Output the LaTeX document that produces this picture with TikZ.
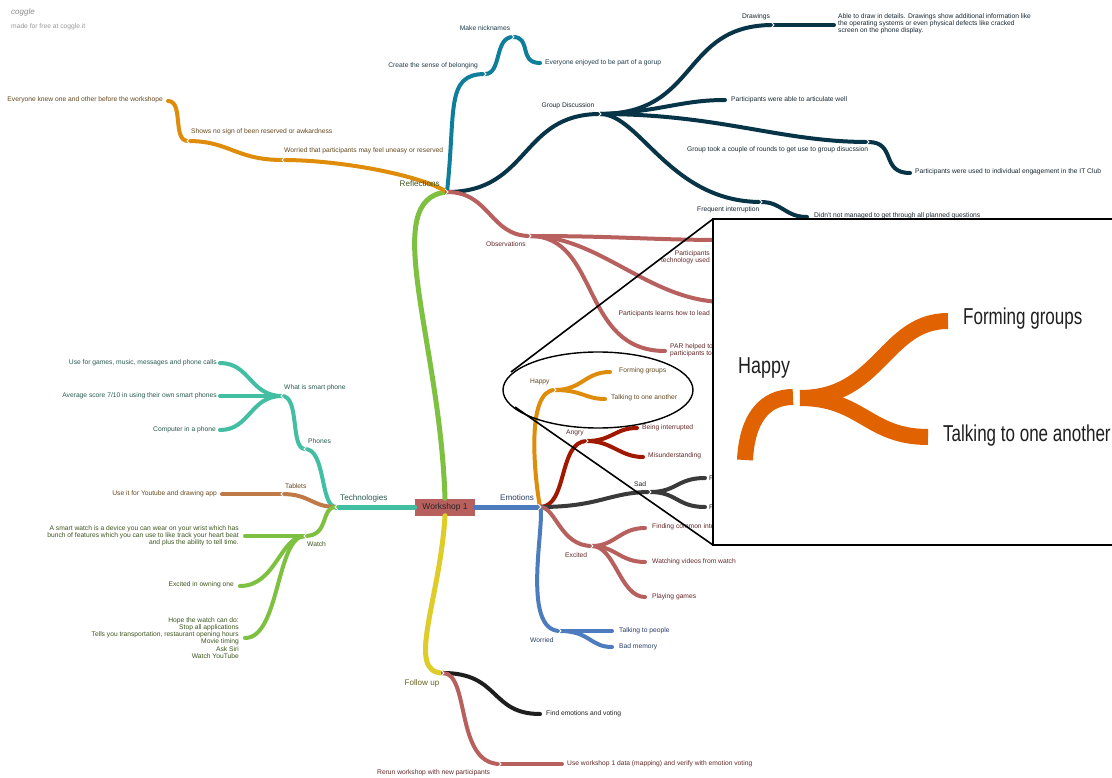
\documentclass[tikz,border=0pt]{standalone}
\usepackage{fontspec}
\setmainfont{Liberation Sans}
\usetikzlibrary{calc,shapes.geometric}
\definecolor{cOr}{RGB}{222,140,10}
\definecolor{cTl}{RGB}{14,126,155}
\definecolor{cNv}{RGB}{8,52,72}
\definecolor{cRo}{RGB}{184,96,94}
\definecolor{cGr}{RGB}{126,192,64}
\definecolor{cYe}{RGB}{222,204,40}
\definecolor{cTg}{RGB}{66,190,162}
\definecolor{cBr}{RGB}{192,122,72}
\definecolor{cBl}{RGB}{76,123,190}
\definecolor{cDr}{RGB}{160,24,0}
\definecolor{cDg}{RGB}{58,58,58}
\definecolor{cBk}{RGB}{30,30,30}
\definecolor{cIn}{RGB}{224,98,0}
\definecolor{tOr}{RGB}{100,72,30}
\definecolor{tTl}{RGB}{30,60,75}
\definecolor{tNv}{RGB}{25,40,50}
\definecolor{tRo}{RGB}{100,40,40}
\definecolor{tGr}{RGB}{60,85,30}
\definecolor{tTg}{RGB}{40,90,80}
\definecolor{tBl}{RGB}{40,60,100}
\definecolor{tBk}{RGB}{30,30,30}
\definecolor{tYe}{RGB}{100,100,30}
\begin{document}
\begin{tikzpicture}[x=1pt,y=-1pt,
  br/.style={line width=4pt,line cap=round},
  mbr/.style={line width=5pt,line cap=round},
  lf/.style={font=\fontsize{6.7}{7.2}\selectfont,inner sep=0pt},
  tp/.style={font=\fontsize{8.1}{9}\selectfont,inner sep=0pt},
  notch/.pic={\draw[white,line width=0.8pt,line cap=round] (-1.5,-2.5) -- (1,0) -- (-1.5,2.5);},
  big/.style={font=\fontsize{23}{26}\selectfont,inner sep=0pt}]
\useasboundingbox (0,0) rectangle (1112,778);
\fill[white] (0,0) rectangle (1112,778);

% header
\node[anchor=west,inner sep=0pt,text=black!45,font=\fontsize{8}{9}\selectfont\itshape] (logo) at (11,12) {coggle};
\node[anchor=west,inner sep=0pt,text=black!40,font=\fontsize{6.7}{8}\selectfont] (made) at (11,27) {made for free at coggle.it};

% junction coordinates
\coordinate (refl) at (447,192);
\coordinate (wor) at (283,160);
\coordinate (sho) at (188,141);
\coordinate (eve) at (168,101);
\coordinate (bel) at (485,74);
\coordinate (nick) at (513,37);
\coordinate (enj) at (540,63);
\coordinate (gd) at (600,114);
\coordinate (drw) at (773,25);
\coordinate (drwE) at (834,25);
\coordinate (art) at (725,100);
\coordinate (gt) at (868,142);
\coordinate (ind) at (910,173);
\coordinate (fi) at (761,202);
\coordinate (didnt) at (807,217);
\coordinate (obs) at (530,236);
\coordinate (ob1) at (725,240);
\coordinate (ob2) at (725,302);
\coordinate (par) at (665,351);
\coordinate (fu) at (443,673);
\coordinate (fev) at (540,714);
\coordinate (rer) at (500,764);
\coordinate (use) at (562,764);
\coordinate (tech) at (336,507);
\coordinate (pho) at (305,449);
\coordinate (wsp) at (282,396);
\coordinate (p1) at (220,363);
\coordinate (p2) at (220,396);
\coordinate (p3) at (220,430);
\coordinate (tab) at (282,494);
\coordinate (tabE) at (222,494);
\coordinate (wat) at (305,536);
\coordinate (w1) at (245,536);
\coordinate (w2) at (240,586);
\coordinate (w3) at (245,638);
\coordinate (emo) at (540,507);
\coordinate (hap) at (555,390);
\coordinate (h1) at (610,372);
\coordinate (h2) at (605,399);
\coordinate (ang) at (587,441);
\coordinate (a1) at (637,428);
\coordinate (a2) at (643,457);
\coordinate (sad) at (650,492);
\coordinate (s1) at (705,478);
\coordinate (s2) at (705,507);
\coordinate (exc) at (592,546);
\coordinate (e1) at (645,528);
\coordinate (e2) at (645,562);
\coordinate (e3) at (645,597);
\coordinate (wrd) at (560,631);
\coordinate (r1) at (612,631);
\coordinate (r2) at (612,647);

% central node
\node[fill=cRo,minimum width=60pt,minimum height=17pt,inner sep=0pt,text=black!85,font=\fontsize{8.5}{10}\selectfont] (ws) at (445,507) {Workshop 1};

% ===== Reflections =====
\draw[mbr,cGr] (ws.north) .. controls (440,340) and (378,198) .. (refl);
\draw[br,cOr] (refl) .. controls (420,175) and (340,160) .. (wor);
\draw[br,cOr] (wor) .. controls (235,160) and (230,141) .. (sho);
\draw[br,cOr] (sho) .. controls (172,141) and (184,101) .. (eve);
\draw[br,cTl] (refl) .. controls (456,110) and (445,74) .. (bel);
\draw[br,cTl] (bel) .. controls (502,74) and (494,37) .. (nick);
\draw[br,cTl] (nick) .. controls (532,37) and (518,63) .. (enj);
\draw[br,cNv] (refl) .. controls (530,192) and (520,114) .. (gd);
\draw[br,cNv] (gd) .. controls (700,114) and (680,25) .. (drw);
\draw[br,cNv] (drw) -- (drwE);
\draw[br,cNv] (gd) .. controls (660,112) and (680,100) .. (art);
\draw[br,cNv] (gd) .. controls (720,114) and (780,142) .. (gt);
\draw[br,cNv] (gt) .. controls (897,142) and (880,173) .. (ind);
\draw[br,cNv] (gd) .. controls (640,114) and (670,202) .. (fi);
\draw[br,cNv] (fi) .. controls (782,202) and (785,217) .. (didnt);
\draw[br,cRo] (refl) .. controls (490,192) and (490,236) .. (obs);
\draw[br,cRo] (obs) .. controls (620,236) and (650,240) .. (ob1);
\draw[br,cRo] (obs) .. controls (600,236) and (650,302) .. (ob2);
\draw[br,cRo] (obs) .. controls (600,236) and (580,351) .. (par);

\node[tp,anchor=east,text=tGr] (lrefl) at (440,184) {Reflections};
\node[lf,anchor=west,text=tOr] (lwor) at (284,151) {Worried that participants may feel uneasy or reserved};
\node[lf,anchor=west,text=tOr] (lsho) at (191,132) {Shows no sign of been reserved or awkardness};
\node[lf,anchor=east,text=tOr] (leve) at (163,100) {Everyone knew one and other before the workshope};
\node[lf,anchor=east,text=tTl] (lbel) at (478,66) {Create the sense of belonging};
\node[lf,text=tTl] (lnick) at (485,28) {Make nicknames};
\node[lf,anchor=west,text=tTl] (lenj) at (545,63) {Everyone enjoyed to be part of a gorup};
\node[lf,text=tNv] (lgd) at (568,106) {Group Discussion};
\node[lf,text=tNv] (ldrw) at (756,17) {Drawings};
\node[lf,anchor=west,align=left,text=tNv] (ldrwE) at (838,24) {Able to draw in details. Drawings show additional information like\\the operating systems or even physical defects like cracked\\screen on the phone display.};
\node[lf,anchor=west,text=tNv] (lart) at (731,100) {Participants were able to articulate well};
\node[lf,anchor=west,text=tNv] (lgt) at (687,150) {Group took a couple of rounds to get use to group disucssion};
\node[lf,anchor=west,text=tNv] (lind) at (915,172) {Participants were used to individual engagement in the IT Club};
\node[lf,anchor=west,text=tNv] (lfi) at (697,210) {Frequent interruption};
\node[lf,anchor=west,text=tNv] (ldidnt) at (814,216) {Didn't not managed to get through all planned questions};
\node[lf,anchor=west,text=tRo] (lobs) at (486,244) {Observations};
\node[lf,anchor=east,align=right,text=tRo] (lob2) at (710,257) {Participants\\technology used};
\node[lf,anchor=east,text=tRo] (llead) at (710,314) {Participants learns how to lead};
\node[lf,anchor=west,align=left,text=tRo] (lpar) at (670,350) {PAR helped to\\participants to};

% ===== Follow up =====
\draw[mbr,cYe] (ws.south) .. controls (440,600) and (405,673) .. (fu);
\draw[br,cBk] (fu) .. controls (500,673) and (490,714) .. (fev);
\draw[br,cRo] (fu) .. controls (470,673) and (455,764) .. (rer);
\draw[br,cRo] (rer) -- (use);
\node[tp,text=tYe] (lfu) at (422,683) {Follow up};
\node[lf,anchor=west,text=tBk] (lfev) at (546,714) {Find emotions and voting};
\node[lf,anchor=west,text=tRo] (lrer) at (377,773) {Rerun workshop with new participants};
\node[lf,anchor=west,text=tRo] (luse) at (567,764) {Use workshop 1 data (mapping) and verify with emotion voting};

% ===== Technologies =====
\draw[mbr,cTg] (ws.west) -- (tech);
\draw[br,cTg] (tech) .. controls (320,507) and (326,449) .. (pho);
\draw[br,cTg] (pho) .. controls (290,449) and (300,396) .. (wsp);
\draw[br,cTg] (wsp) .. controls (250,396) and (250,363) .. (p1);
\draw[br,cTg] (wsp) -- (p2);
\draw[br,cTg] (wsp) .. controls (250,396) and (250,430) .. (p3);
\draw[br,cBr] (tech) .. controls (312,507) and (310,494) .. (tab);
\draw[br,cBr] (tab) -- (tabE);
\draw[br,cGr] (tech) .. controls (320,507) and (330,536) .. (wat);
\draw[br,cGr] (wat) -- (w1);
\draw[br,cGr] (wat) .. controls (280,536) and (276,586) .. (w2);
\draw[br,cGr] (wat) .. controls (276,536) and (280,638) .. (w3);
\node[tp,anchor=west,text=tTg] (ltech) at (340,498) {Technologies};
\node[lf,anchor=west,text=tTg] (lpho) at (308,441) {Phones};
\node[lf,anchor=west,text=tTg] (lwsp) at (284,388) {What is smart phone};
\node[lf,anchor=east,text=tTg] (lp1) at (217,363) {Use for games, music, messages and phone calls};
\node[lf,anchor=east,text=tTg] (lp2) at (217,396) {Average score 7/10 in using their own smart phones};
\node[lf,anchor=east,text=tTg] (lp3) at (216,430) {Computer in a phone};
\node[lf,anchor=west,text=tOr] (ltab) at (285,486) {Tablets};
\node[lf,anchor=east,text=tOr] (ltabE) at (217,494) {Use it for Youtube and drawing app};
\node[lf,anchor=west,text=tGr] (lwat) at (307,544) {Watch};
\node[lf,anchor=east,align=right,text=tGr] (lw1) at (239,536) {A smart watch is a device you can wear on your wrist which has\\bunch of features which you can use to like track your heart beat\\and plus the ability to tell time.};
\node[lf,anchor=east,text=tGr] (lw2) at (234,585) {Excited in owning one};
\node[lf,anchor=east,align=right,text=tGr] (lw3) at (239,638) {Hope the watch can do:\\Stop all applications\\Tells you transportation, restaurant opening hours\\Movie timing\\Ask Siri\\Watch YouTube};

% ===== Emotions =====
\draw[mbr,cBl] (ws.east) -- (emo);
\draw[br,cOr] (emo) .. controls (535,480) and (525,390) .. (hap);
\draw[br,cOr] (hap) .. controls (582,390) and (585,372) .. (h1);
\draw[br,cOr] (hap) .. controls (582,390) and (585,399) .. (h2);
\draw[br,cDr] (emo) .. controls (568,507) and (558,441) .. (ang);
\draw[br,cDr] (ang) .. controls (612,441) and (615,428) .. (a1);
\draw[br,cDr] (ang) .. controls (612,441) and (620,457) .. (a2);
\draw[br,cDg] (emo) .. controls (600,507) and (610,492) .. (sad);
\draw[br,cDg] (sad) .. controls (677,492) and (677,478) .. (s1);
\draw[br,cDg] (sad) .. controls (677,492) and (677,507) .. (s2);
\draw[br,cRo] (emo) .. controls (556,507) and (560,546) .. (exc);
\draw[br,cRo] (exc) .. controls (615,546) and (620,528) .. (e1);
\draw[br,cRo] (exc) .. controls (615,546) and (620,562) .. (e2);
\draw[br,cRo] (exc) .. controls (615,546) and (620,597) .. (e3);
\draw[br,cBl] (emo) .. controls (546,520) and (520,631) .. (wrd);
\draw[br,cBl] (wrd) -- (r1);
\draw[br,cBl] (wrd) .. controls (590,631) and (590,647) .. (r2);
\node[tp,anchor=west,text=tBl] (lemo) at (500,498) {Emotions};
\node[lf,anchor=west,text=tOr] (lhap) at (530,382) {Happy};
\node[lf,anchor=west,text=tOr] (lh1) at (619,371) {Forming groups};
\node[lf,anchor=west,text=tOr] (lh2) at (611,398) {Talking to one another};
\node[lf,anchor=west,text=tRo] (lang) at (566,433) {Angry};
\node[lf,anchor=west,text=tRo] (la1) at (642,428) {Being interrupted};
\node[lf,anchor=west,text=tRo] (la2) at (648,456) {Misunderstanding};
\node[lf,anchor=west,text=tBk] (lsad) at (634,484) {Sad};
\node[lf,anchor=west,text=tBk] (ls1) at (709,478) {F};
\node[lf,anchor=west,text=tBk] (ls2) at (709,507) {F};
\node[lf,anchor=west,text=tRo] (lexc) at (565,555) {Excited};
\node[lf,anchor=west,text=tRo] (le1) at (652,527) {Finding common interests};
\node[lf,anchor=west,text=tRo] (le2) at (652,562) {Watching videos from watch};
\node[lf,anchor=west,text=tRo] (le3) at (652,597) {Playing games};
\node[lf,anchor=west,text=tBl] (lwrd) at (530,640) {Worried};
\node[lf,anchor=west,text=tBl] (lr1) at (619,631) {Talking to people};
\node[lf,anchor=west,text=tBl] (lr2) at (619,647) {Bad memory};

% notches
\foreach \p in {bel,nick,gd,drw,gt,fi,obs,hap,ang,sad,exc,wrd,fu,rer,emo,refl}
  \pic at (\p) {notch};
\foreach \p in {wor,sho,tech,pho,wsp,tab,wat}
  \pic[xscale=-1] at (\p) {notch};

% ===== Zoom inset =====
\node[draw=black,line width=1.4pt,ellipse,minimum width=190pt,minimum height=76pt,inner sep=0pt] (ell) at (598,390) {};
\coordinate (z1) at (511,372);
\coordinate (z2) at (515,407);
\coordinate (bx1) at (713,219);
\coordinate (bx2) at (713,545);
\draw[line width=1.6pt] (z1) -- (bx1);
\draw[line width=1.6pt] (z2) -- (bx2);
\draw[line width=1.6pt,fill=white] (bx1) rectangle (1130,545);
\begin{scope}
\clip (714,220) rectangle (1112,544);
\draw[line width=16pt,cIn] (745,460) .. controls (747,418) and (765,397) .. (793,397);
\draw[line width=16pt,cIn] (800,398) .. controls (880,398) and (885,321) .. (948,321);
\draw[line width=16pt,cIn] (800,398) .. controls (862,398) and (868,437) .. (928,437);
\node[big,anchor=west,text=black!88] (ihap) at (738,368) {\scalebox{0.78}[1]{Happy}};
\node[big,anchor=west,text=black!88] (ih1) at (963,319) {\scalebox{0.74}[1]{Forming groups}};
\node[big,anchor=west,text=black!88] (ih2) at (943,436) {\scalebox{0.74}[1]{Talking to one another}};
\end{scope}
\end{tikzpicture}
\end{document}
